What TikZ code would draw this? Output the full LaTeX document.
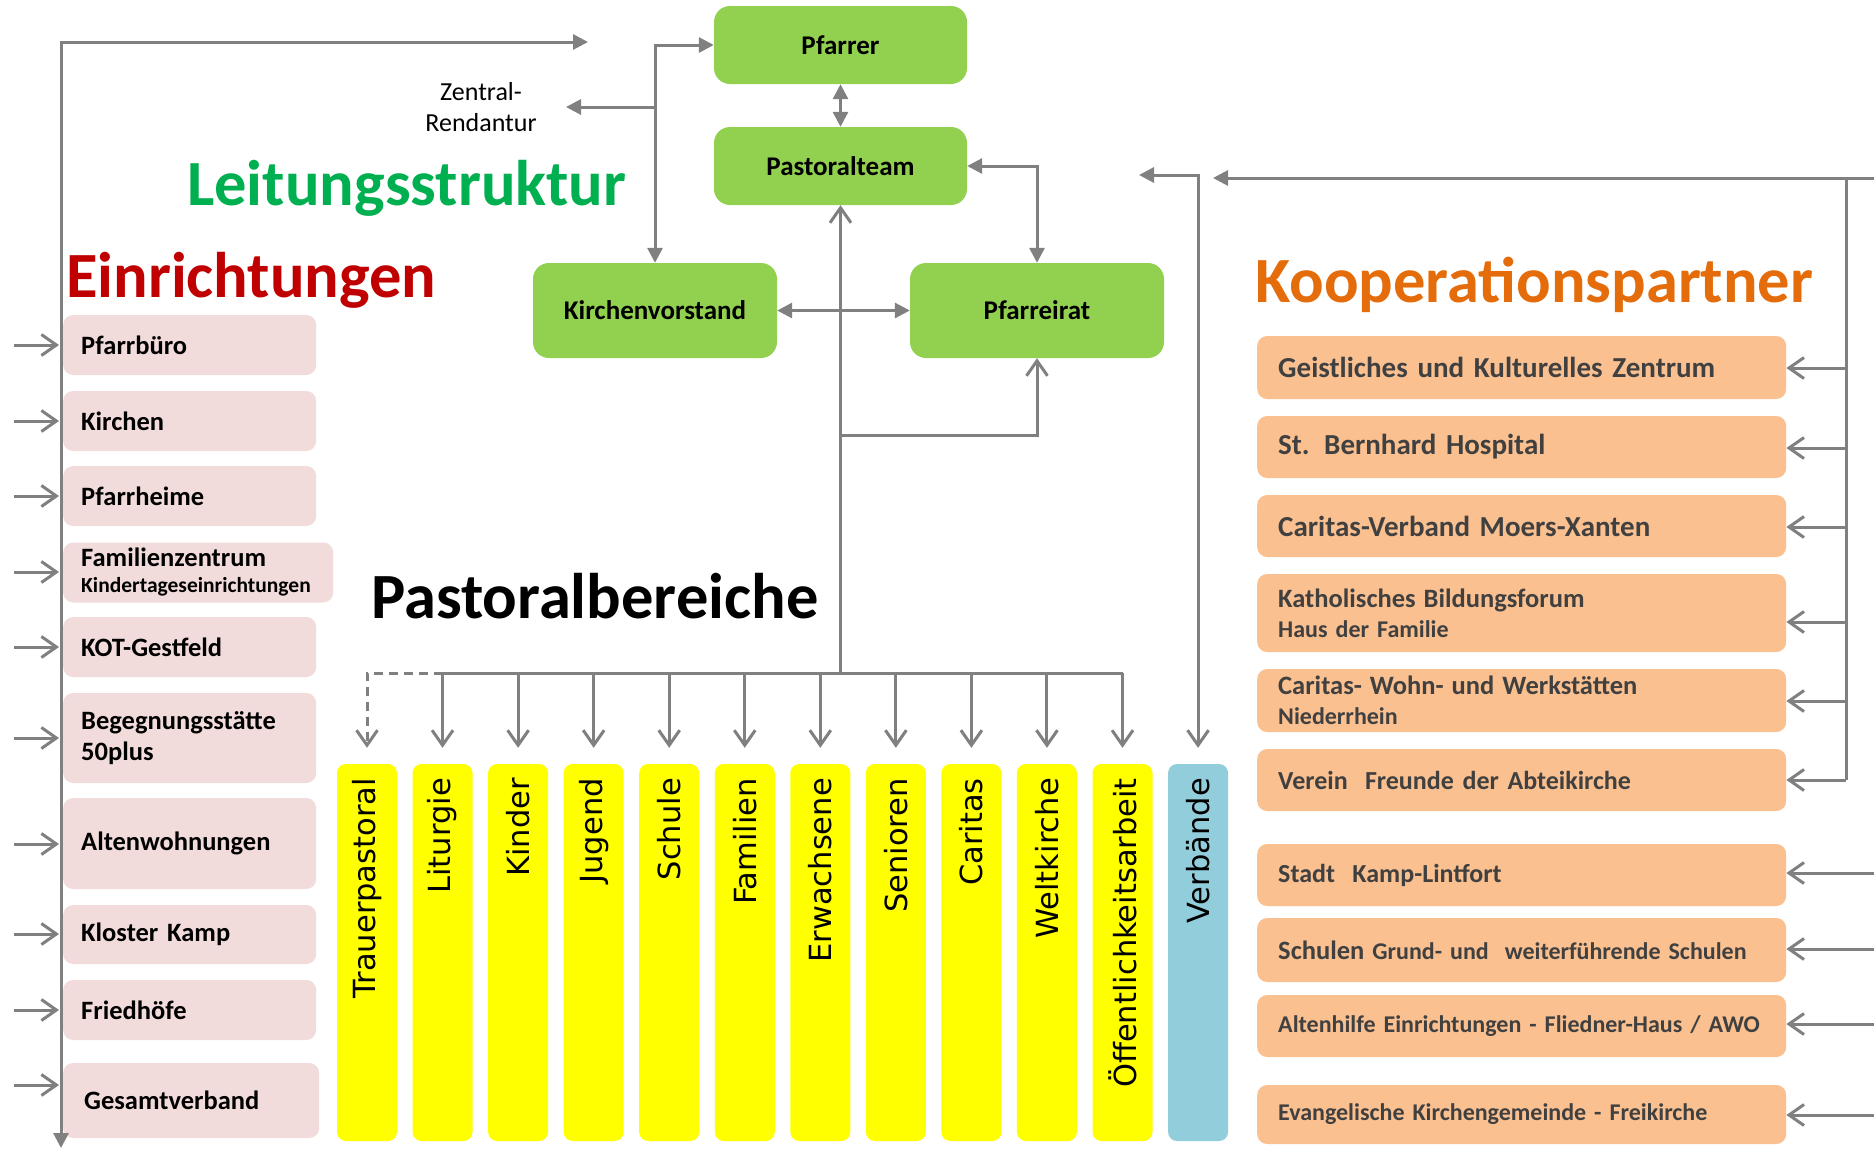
\documentclass[tikz,border=0pt]{standalone}
\usepackage{fontspec}
\setmainfont{Carlito}
\newfontfamily\dvs{DejaVu Sans}
\usetikzlibrary{arrows.meta}
\definecolor{lgreen}{HTML}{92D050}
\definecolor{epink}{HTML}{F2DCDB}
\definecolor{korange}{HTML}{FAC090}
\definecolor{ttlorange}{HTML}{E46C0A}
\definecolor{ttlgreen}{HTML}{00B050}
\definecolor{ttlred}{HTML}{C00000}
\definecolor{vblue}{HTML}{92CDDC}
\definecolor{lgray}{HTML}{808080}
\definecolor{otext}{HTML}{404040}
\definecolor{byellow}{HTML}{FFFF00}
\begin{document}
\begin{tikzpicture}[x=1pt,y=-1pt,
  ftri/.tip={Triangle[length=15pt,width=15pt]},
  obarb/.tip={Straight Barb[length=15pt,width=21pt]},
  conn/.style={draw=lgray,line width=3pt},
  gbox/.style={fill=lgreen,rounded corners=16pt,inner sep=0pt,font=\fontsize{27}{32}\selectfont\bfseries},
  ebox/.style={fill=epink,rounded corners=10pt,anchor=west,inner xsep=18pt,inner ysep=0pt,text width=217pt,align=left,font=\fontsize{26.5}{31}\selectfont\bfseries},
  obox/.style={fill=korange,text=otext,rounded corners=10pt,anchor=west,inner xsep=21pt,inner ysep=0pt,text width=487pt,align=left,font=\fontsize{26}{30}\selectfont\bfseries},
  title/.style={anchor=base west,inner sep=0pt,font=\fontsize{64.5}{72}\selectfont\bfseries},
  bar/.style={fill=byellow,rounded corners=9pt,minimum width=60pt,minimum height=377pt,inner sep=0pt},
  vlab/.style={rotate=90,anchor=east,inner sep=0pt,font=\dvs\fontsize{30.5}{33}\selectfont}]
\fill[white] (0,0) rectangle (1874,1152);
\useasboundingbox (0,0) rectangle (1874,1152);

% titles
\node[title,text=ttlgreen] (t1) at (187,205) {Leitungsstruktur};
\node[title,text=ttlred] (t2) at (66,297) {Einrichtungen};
\node[title,text=ttlorange] (t3) at (1255,302) {Kooperationspartner};
\node[title] (t4) at (371,618) {Pastoralbereiche};

% green boxes
\node[gbox,minimum width=253pt,minimum height=78pt] (pfarrer) at (840.5,45) {Pfarrer};
\node[gbox,minimum width=253pt,minimum height=78pt] (pteam) at (840.5,166) {Pastoralteam};
\node[gbox,minimum width=244pt,minimum height=95pt] (kv) at (655,310.5) {Kirchenvorstand};
\node[gbox,minimum width=254pt,minimum height=95pt] (pr) at (1037,310.5) {Pfarreirat};
\node[font=\fontsize{26}{31}\selectfont,align=center,inner sep=0pt] (zr) at (481,107) {Zentral-\\Rendantur};

% green connectors
\draw[conn,ftri-ftri] (pfarrer) -- (pteam);
\draw[conn,ftri-ftri] (kv.north) -- (kv.north |- pfarrer.west) -- (pfarrer.west);
\coordinate (zrtip) at (566,107);
\draw[conn,-ftri] (kv.north |- zrtip) -- (zrtip);
\draw[conn,ftri-ftri] (pteam.east) -| (pr.north);
\draw[conn,ftri-ftri] (kv.east) -- (pr.west);
\coordinate (hub) at (840.5,673);
\draw[conn,-obarb] (hub) -- (pteam.south);
\coordinate (br) at (840.5,435);
\draw[conn,-obarb] (br) -| (pr.south);

% Pastoralbereiche bars
\foreach \lab [count=\i from 0] in {Trauerpastoral,Liturgie,Kinder,Jugend,Schule,Familien,Erwachsene,Senioren,Caritas,Weltkirche,Öffentlichkeitsarbeit}{
  \node[bar] (bar\i) at ({367+75.55*\i},952.5) {};
  \node[vlab] (vl\i) at ({367+75.55*\i},778) {\lab};
}
\node[bar,fill=vblue] (bar11) at ({367+75.55*11},952.5) {};
\node[vlab] (vl11) at ({367+75.55*11},778) {Verbände};

\draw[conn] (bar1.north |- hub) -- (bar10.north |- hub);
\foreach \i in {1,...,10}{
  \draw[conn,-obarb,shorten >=16pt] (bar\i.north |- hub) -- (bar\i.north);
}
\draw[conn,dash pattern=on 9pt off 6pt,-obarb,shorten >=16pt] (bar1.north |- hub) -| (bar0.north);

% Verbaende line
\coordinate (vtop) at ({367+75.55*11},175);
\coordinate (vtip) at (1139,175);
\draw[conn,ftri-obarb,shorten >=16pt] (vtip) -- (vtop) -- (bar11.north);

% Einrichtungen
\node[ebox,minimum height=60pt] (e1) at (63,345) {Pfarrbüro};
\node[ebox,minimum height=60pt] (e2) at (63,421) {Kirchen};
\node[ebox,minimum height=60pt] (e3) at (63,496) {Pfarrheime};
\node[ebox,minimum height=60pt,text width=234pt,font=\fontsize{21.5}{26}\selectfont\bfseries] (e4) at (63,572.5) {{\fontsize{26.5}{26}\selectfont Familienzentrum}\\Kindertageseinrichtungen};
\node[ebox,minimum height=60pt] (e5) at (63,647) {KOT-Gestfeld};
\node[ebox,minimum height=90pt] (e6) at (63,738) {Begegnungsstätte\\50plus};
\node[ebox,minimum height=91pt] (e7) at (63,843.5) {Altenwohnungen};
\node[ebox,minimum height=59pt] (e8) at (63,934.5) {Kloster Kamp};
\node[ebox,minimum height=60pt] (e9) at (63,1010) {Friedhöfe};
\node[ebox,minimum height=75pt,inner xsep=21pt,text width=214pt] (e10) at (63,1100.5) {Gesamtverband};

\coordinate (ltop) at (61,42);
\coordinate (lbot) at (61,1148);
\coordinate (ltip) at (588,42);
\draw[conn,ftri-ftri] (lbot) -- (ltop) -- (ltip);
\foreach \i/\yy in {1/345,2/421,3/496,4/572,5/647,6/738,7/844,8/934,9/1010,10/1085}{
  \coordinate (la\i) at (14,\yy);
  \draw[conn,-obarb,shorten >=4pt] (la\i) -- (la\i -| e\i.west);
}

% Kooperationspartner
\node[obox,minimum height=63pt,font=\fontsize{29}{32}\selectfont\bfseries] (ko1) at (1257,367.5) {Geistliches und Kulturelles Zentrum};
\node[obox,minimum height=62pt,font=\fontsize{29}{32}\selectfont\bfseries] (ko2) at (1257,447) {St. Bernhard Hospital};
\node[obox,minimum height=62pt,font=\fontsize{29}{32}\selectfont\bfseries] (ko3) at (1257,526) {Caritas-Verband Moers-Xanten};
\node[obox,minimum height=78pt,font=\fontsize{24}{30}\selectfont\bfseries] (ko4) at (1257,613) {{\fontsize{26.5}{30}\selectfont Katholisches Bildungsforum}\\Haus der Familie};
\node[obox,minimum height=63pt,font=\fontsize{24}{30}\selectfont\bfseries] (ko5) at (1257,700.5) {{\fontsize{26.5}{30}\selectfont Caritas- Wohn- und Werkstätten}\\Niederrhein};
\node[obox,minimum height=62pt] (ko6) at (1257,780) {Verein\ \ Freunde der Abteikirche};
\node[obox,minimum height=62pt] (ko7) at (1257,875) {Stadt\ \ Kamp-Lintfort};
\node[obox,minimum height=64pt,font=\fontsize{24}{30}\selectfont\bfseries] (ko8) at (1257,950) {{\fontsize{26.5}{30}\selectfont Schulen} Grund- und\ \ weiterführende Schulen};
\node[obox,minimum height=62pt,font=\fontsize{24}{30}\selectfont\bfseries] (ko9) at (1257,1026) {Altenhilfe Einrichtungen - Fliedner-Haus / AWO};
\node[obox,minimum height=59pt,font=\fontsize{24}{30}\selectfont\bfseries] (ko10) at (1257,1114.5) {Evangelische Kirchengemeinde - Freikirche};

\coordinate (redge) at (1874,178);
\coordinate (rtip) at (1213,178);
\coordinate (rv) at (1846,178);
\draw[conn,-ftri] (redge) -- (rtip);
\draw[conn] (rv) -- (rv |- ko6.east);
\foreach \i/\xx/\yy in {1/1846/368,2/1846/448,3/1846/527,4/1846/622,5/1846/701,6/1846/780,7/1874/873,8/1874/949,9/1874/1024,10/1874/1115}{
  \coordinate (ka\i) at (\xx,\yy);
  \draw[conn,-obarb] (ka\i) -- (ka\i -| ko\i.east);
}
\end{tikzpicture}
\end{document}
